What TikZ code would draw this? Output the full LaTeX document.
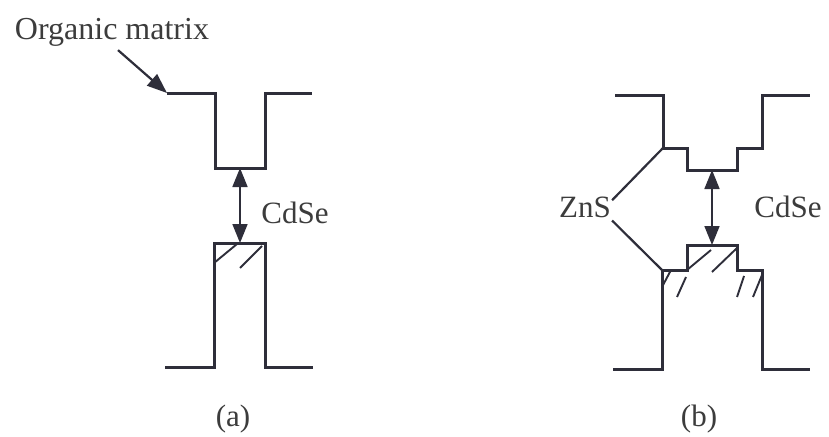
\documentclass[tikz,border=0pt]{standalone}
\usepackage{fontspec}
\setmainfont{Liberation Serif}
\usetikzlibrary{arrows.meta}
\definecolor{ink}{HTML}{2E2E3A}
\definecolor{txt}{HTML}{3C3C3C}
\begin{document}
\begin{tikzpicture}[x=1pt,y=-1pt,
  band/.style={line width=3pt, draw=ink, line join=miter},
  hatch/.style={line width=1.9pt, draw=ink},
  gap/.style={line width=1.7pt, draw=ink, {Triangle[length=19pt,width=15pt]}-{Triangle[length=19pt,width=15pt]}},
  ptr/.style={line width=2.2pt, draw=ink, -{Triangle[length=20pt,width=15pt]}},
  link/.style={line width=2.2pt, draw=ink},
  lbl/.style={text=txt, font=\fontsize{31}{36}\selectfont, inner sep=0pt, anchor=base}]
\useasboundingbox[fill=white] (0,0) rectangle (829,436);

% ---------- panel (a) ----------
\coordinate (aom) at (167,93);
\coordinate (acb) at (240,168);
\coordinate (avb) at (240,243);
\draw[band] (aom) -- (215,93) -- (215,168) -- (265,168) -- (265,93) -- (312,93);
\draw[band] (165,367) -- (214,367) -- (214,243) -- (265,243) -- (265,367) -- (313,367);
\draw[hatch] (214,263) -- (237,244);
\draw[hatch] (240,268) -- (262,246);
\draw[gap] (acb) -- (avb);
\node[lbl,font=\fontsize{32}{36}\selectfont] (om) at (112,40) {Organic matrix};
\draw[ptr] ([xshift=6pt,yshift=-3pt]om.south) -- (aom);
\node[lbl] (cdsea) at (295,223) {CdSe};
\node[lbl] (capa) at (233,426) {(a)};

% ---------- panel (b) ----------
\coordinate (bzt) at (663,148);
\coordinate (bzb) at (662,270);
\coordinate (bcb) at (712,170);
\coordinate (bvb) at (712,245);
\draw[band] (615,95) -- (663,95) -- (bzt) -- (687,148) -- (687,170) -- (737,170) -- (737,148) -- (762,148) -- (762,95) -- (810,95);
\draw[band] (613,369) -- (662,369) -- (bzb) -- (687,270) -- (687,245) -- (737,245) -- (737,270) -- (762,270) -- (762,369) -- (810,369);
\draw[hatch] (662,287) -- (671,270);
\draw[hatch] (677,297) -- (686,277);
\draw[hatch] (687,270) -- (711,250);
\draw[hatch] (712,272) -- (737,248);
\draw[hatch] (737,297) -- (744,276);
\draw[hatch] (753,297) -- (762,275);
\draw[gap] (bcb) -- (bvb);
\node[lbl] (zns) at (585,217) {ZnS};
\draw[link] ([xshift=1pt,yshift=-4pt]zns.north east) -- (bzt);
\draw[link] ([xshift=1pt,yshift=-3pt]zns.south east) -- (bzb);
\node[lbl] (cdseb) at (788,217) {CdSe};
\node[lbl] (capb) at (699,426) {(b)};
\end{tikzpicture}
\end{document}
